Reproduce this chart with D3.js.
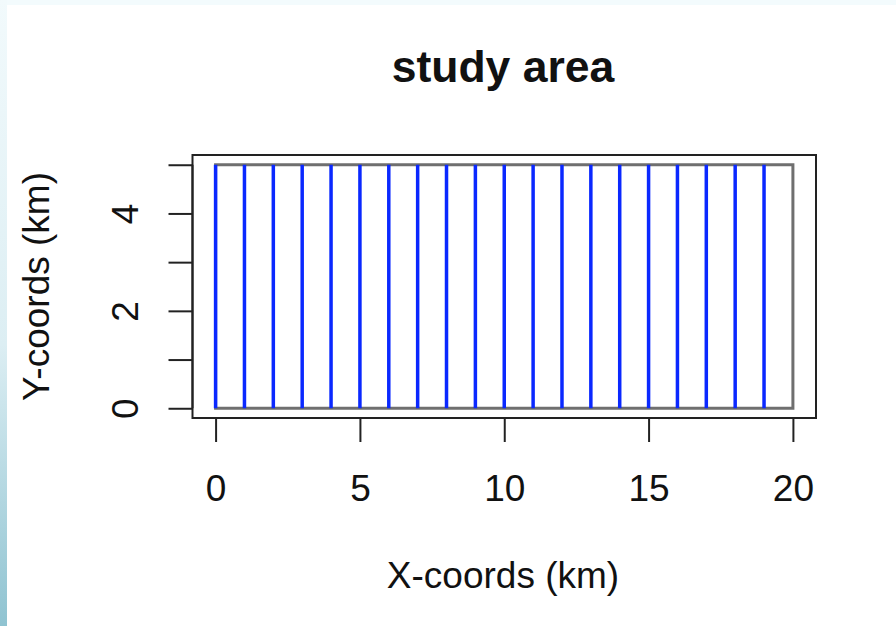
<!DOCTYPE html>
<head>
    <title>study area</title>
    <style>
      body { margin: 0; background: #fff; }
      svg text { font-family: "Liberation Sans", Arial, sans-serif; fill: #111; }
    </style>
</head>
<body>
</body>
<script src="https://cdn.jsdelivr.net/npm/d3@7"></script>
<script>

// chart data
const title = "study area"
const xLabel = "X-coords (km)"
const yLabel = "Y-coords (km)"
const areaX = [0, 20, 20, 0]
const areaY = [0, 0, 5, 5]
const transectX = [0, 1, 2, 3, 4, 5, 6, 7, 8, 9, 10, 11, 12, 13, 14, 15, 16, 17, 18, 19]
const transectY0 = [0, 0, 0, 0, 0, 0, 0, 0, 0, 0, 0, 0, 0, 0, 0, 0, 0, 0, 0, 0]
const transectY1 = [5, 5, 5, 5, 5, 5, 5, 5, 5, 5, 5, 5, 5, 5, 5, 5, 5, 5, 5, 5]
const xTicks = [0, 5, 10, 15, 20]
const yTicks = [0, 1, 2, 3, 4, 5]
const yTickLabels = ["0", "", "2", "", "4", ""]

const width = 896
const height = 626
const boxLeft = 192.5
const boxRight = 816
const boxTop = 155
const boxBottom = 418

let svg = d3.select("body").append("svg")
    .attr("width", width)
    .attr("height", height)

// light blue frame of the screenshot
let grad = svg.append("defs").append("linearGradient")
    .attr("id", "edge").attr("x1", 0).attr("y1", 0).attr("x2", 0).attr("y2", 1)
grad.append("stop").attr("offset", "0%").attr("stop-color", "#f2fafc")
grad.append("stop").attr("offset", "55%").attr("stop-color", "#dceef3")
grad.append("stop").attr("offset", "100%").attr("stop-color", "#8fc3d1")

svg.append("rect").attr("width", width).attr("height", height).attr("fill", "#fff")
svg.append("rect").attr("width", width).attr("height", 5).attr("fill", "#f3fbfd")
svg.append("rect").attr("width", 7).attr("height", height).attr("fill", "url(#edge)")

// R style: axis range padded by 4%
const x = d3.scaleLinear().domain([-0.8, 20.8]).range([boxLeft, boxRight])
const y = d3.scaleLinear().domain([-0.2, 5.2]).range([boxBottom, boxTop])

// study area polygon
const area = areaX.map((d, i) => [x(d), y(areaY[i])])
svg.append("path")
    .attr("d", d3.line()(area) + "Z")
    .attr("fill", "none")
    .attr("stroke", "#6f6f6f")
    .attr("stroke-width", 3)

// transects
svg.selectAll("line.transect")
  .data(transectX)
    .join("line")
      .attr("class", "transect")
      .attr("x1", d => x(d))
      .attr("x2", d => x(d))
      .attr("y1", (d, i) => y(transectY0[i]))
      .attr("y2", (d, i) => y(transectY1[i]))
      .attr("stroke", "#0a28ff")
      .attr("stroke-width", 3.5)

// plot box
svg.append("rect")
    .attr("x", boxLeft).attr("y", boxTop)
    .attr("width", boxRight - boxLeft).attr("height", boxBottom - boxTop)
    .attr("fill", "none").attr("stroke", "#222").attr("stroke-width", 2)

// x axis
let xAxis = svg.append("g")
    .attr("transform", `translate(0,${boxBottom})`)
    .call(d3.axisBottom(x).tickValues(xTicks).tickSize(24).tickSizeOuter(0).tickPadding(32))
xAxis.select(".domain").attr("d", `M${x(0)},0H${x(20)}`).attr("stroke", "#222").attr("stroke-width", 2)
xAxis.selectAll(".tick line").attr("stroke", "#222").attr("stroke-width", 2)
xAxis.selectAll(".tick text")
    .attr("font-size", 37).attr("font-family", "Liberation Sans, Arial, sans-serif")
    .attr("fill", "#111").attr("dy", "0.72em")

// y axis
let yAxis = svg.append("g")
    .attr("transform", `translate(${boxLeft},0)`)
    .call(d3.axisLeft(y).tickValues(yTicks).tickSize(24).tickSizeOuter(0)
      .tickFormat((d, i) => yTickLabels[i]))
yAxis.select(".domain").attr("d", `M0,${y(0)}V${y(5)}`).attr("stroke", "#222").attr("stroke-width", 2)
yAxis.selectAll(".tick line").attr("stroke", "#222").attr("stroke-width", 2)
yAxis.selectAll(".tick text")
    .attr("font-size", 37).attr("font-family", "Liberation Sans, Arial, sans-serif")
    .attr("fill", "#111")
    .attr("x", null).attr("dy", null)
    .attr("text-anchor", "middle")
    .attr("transform", `translate(${138 - boxLeft},0) rotate(-90)`)

// title and labels
svg.append("text")
    .attr("x", 503).attr("y", 82)
    .attr("text-anchor", "middle")
    .attr("font-size", 44.5).attr("font-weight", "bold")
    .text(title)

svg.append("text")
    .attr("x", 503).attr("y", 588)
    .attr("text-anchor", "middle")
    .attr("font-size", 37)
    .text(xLabel)

svg.append("text")
    .attr("transform", `translate(49,${(boxTop + boxBottom) / 2}) rotate(-90)`)
    .attr("text-anchor", "middle")
    .attr("font-size", 37)
    .text(yLabel)

</script>
